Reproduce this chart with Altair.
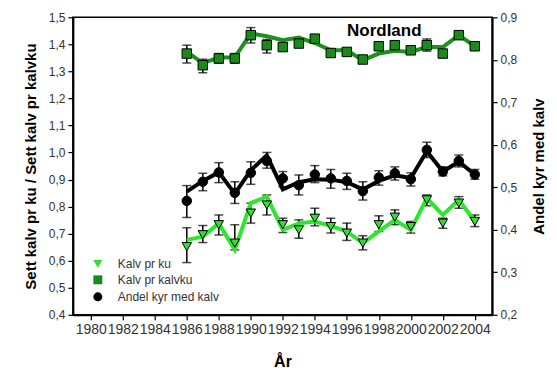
import altair as alt
import pandas as pd

years = list(range(1986, 2005))

# Kalv pr ku (left axis)
ku_val = [0.652, 0.696, 0.733, 0.665, 0.776, 0.806, 0.733, 0.714, 0.757, 0.726,
          0.702, 0.665, 0.733, 0.761, 0.726, 0.825, 0.739, 0.813, 0.745]
ku_lo = [0.593, 0.667, 0.695, 0.640, 0.739, 0.769, 0.704, 0.683, 0.729, 0.702,
         0.675, 0.640, 0.708, 0.733, 0.702, 0.803, 0.720, 0.794, 0.726]
ku_hi = [0.722, 0.730, 0.769, 0.733, 0.813, 0.843, 0.757, 0.751, 0.794, 0.757,
         0.739, 0.692, 0.766, 0.788, 0.745, 0.843, 0.757, 0.837, 0.769]
ku_line = [0.677, 0.689, 0.738, 0.640, 0.813, 0.837, 0.714, 0.738, 0.745, 0.729,
           0.708, 0.665, 0.708, 0.751, 0.714, 0.831, 0.769, 0.825, 0.745]

# Kalv pr kalvku (left axis)
kk_val = [1.366, 1.323, 1.348, 1.348, 1.434, 1.397, 1.390, 1.403, 1.421, 1.368,
          1.372, 1.344, 1.393, 1.397, 1.378, 1.397, 1.366, 1.434, 1.393]
kk_lo = [1.331, 1.295, 1.330, 1.330, 1.405, 1.368, 1.378, 1.391, 1.409, 1.356,
         1.360, 1.332, 1.381, 1.385, 1.366, 1.375, 1.354, 1.422, 1.381]
kk_hi = [1.397, 1.345, 1.366, 1.366, 1.462, 1.418, 1.402, 1.415, 1.433, 1.380,
         1.384, 1.356, 1.405, 1.409, 1.390, 1.420, 1.378, 1.446, 1.405]
kk_line = [1.372, 1.331, 1.351, 1.352, 1.440, 1.430, 1.415, 1.425, 1.405, 1.378,
           1.378, 1.341, 1.366, 1.376, 1.372, 1.390, 1.390, 1.434, 1.393]

# Andel kyr med kalv (right axis)
an_val = [0.468, 0.513, 0.535, 0.487, 0.534, 0.562, 0.521, 0.505, 0.530, 0.521,
          0.515, 0.491, 0.523, 0.533, 0.519, 0.588, 0.537, 0.562, 0.530]
an_lo = [0.429, 0.492, 0.511, 0.462, 0.507, 0.545, 0.501, 0.482, 0.511, 0.498,
         0.495, 0.470, 0.505, 0.517, 0.503, 0.570, 0.527, 0.548, 0.519]
an_hi = [0.504, 0.533, 0.558, 0.513, 0.560, 0.582, 0.537, 0.529, 0.551, 0.542,
         0.533, 0.513, 0.539, 0.548, 0.534, 0.606, 0.548, 0.576, 0.542]
an_line = [0.490, 0.515, 0.535, 0.485, 0.540, 0.575, 0.495, 0.512, 0.519, 0.518,
           0.512, 0.495, 0.515, 0.528, 0.522, 0.585, 0.537, 0.560, 0.530]

series_names = ["Kalv pr ku", "Kalv pr kalvku", "Andel kyr med kalv"]
fills = ["#33dd33", "#1a8a1a", "#000000"]
shapes = ["triangle-down", "square", "circle"]
line_colors = ["#2ee62e", "#1f8f1f", "#000000"]

x_ticks = list(range(1980, 2005, 2))
yl_ticks = [round(0.4 + 0.1 * i, 1) for i in range(12)]
yr_ticks = [round(0.2 + 0.1 * i, 1) for i in range(8)]


def frame(name, val, lo, hi, line):
    return pd.DataFrame({"year": years, "series": name, "val": val,
                         "lo": lo, "hi": hi, "line": line})


df_left = pd.concat([frame(series_names[0], ku_val, ku_lo, ku_hi, ku_line),
                     frame(series_names[1], kk_val, kk_lo, kk_hi, kk_line)],
                    ignore_index=True)
df_right = frame(series_names[2], an_val, an_lo, an_hi, an_line)

FONT = "Liberation Sans"
comma = "replace(format(datum.value, '.1f'), '.', ',')"

xenc = alt.X("year:Q", scale=alt.Scale(domain=[1978.88, 2005.08], nice=False, zero=False),
             axis=alt.Axis(values=x_ticks, format="d", title="År", grid=False,
                           labelFontSize=14, titleFontSize=16, titlePadding=17,
                           labelFlush=False, labelOverlap=False))

axL = alt.Axis(values=yl_ticks, labelExpr=comma, title="Sett kalv pr ku / Sett kalv pr kalvku",
               grid=False, labelFontSize=12, titleFontSize=15, titlePadding=10, orient="left")
axR = alt.Axis(values=yr_ticks, labelExpr=comma, title="Andel kyr med kalv",
               grid=False, labelFontSize=12, titleFontSize=15, titlePadding=30, orient="right",
               titleAngle=270, titleBaseline="bottom")
scL = alt.Scale(domain=[0.4, 1.5], nice=False, zero=False)
scR = alt.Scale(domain=[0.2, 0.9], nice=False, zero=False)

leg = dict(title=None, orient="none", legendX=19, legendY=241,
           labelFont=FONT, labelFontSize=12, labelColor="#333333",
           symbolStrokeColor="black", symbolStrokeWidth=1,
           symbolSize=80, rowPadding=3, labelOffset=14)
fill_enc = alt.Fill("series:N", scale=alt.Scale(domain=series_names, range=fills),
                    legend=alt.Legend(**leg))
shape_enc = alt.Shape("series:N", scale=alt.Scale(domain=series_names, range=shapes),
                      legend=alt.Legend(**leg))


def group(df, sc, ax, lines):
    base = alt.Chart(df)
    rules = base.mark_rule(color="black", strokeWidth=1.5).encode(
        x=xenc, y=alt.Y("lo:Q", scale=sc, axis=ax), y2="hi:Q")
    cap_lo = base.mark_tick(color="black", orient="horizontal", size=9, thickness=1.5).encode(
        x=xenc, y=alt.Y("lo:Q", scale=sc, axis=ax))
    cap_hi = base.mark_tick(color="black", orient="horizontal", size=9, thickness=1.5).encode(
        x=xenc, y=alt.Y("hi:Q", scale=sc, axis=ax))
    line_layers = []
    for name, col in lines:
        line_layers.append(
            alt.Chart(df[df["series"] == name]).mark_line(color=col, strokeWidth=4).encode(
                x=xenc, y=alt.Y("line:Q", scale=sc, axis=ax)))
    pts = base.mark_point(filled=True, size=90, stroke="black", strokeWidth=1, opacity=1).encode(
        x=xenc, y=alt.Y("val:Q", scale=sc, axis=ax), fill=fill_enc, shape=shape_enc)
    return alt.layer(rules, cap_lo, cap_hi, *line_layers, pts)


left = group(df_left, scL, axL, [(series_names[0], line_colors[0]), (series_names[1], line_colors[1])])
right = group(df_right, scR, axR, [(series_names[2], line_colors[2])])

title_df = pd.DataFrame({"label": ["Nordland"]})
label = alt.Chart(title_df).mark_text(font=FONT, fontSize=17, fontWeight="bold",
                                      color="black").encode(
    text="label:N", x=alt.value(312), y=alt.value(14))

chart = alt.layer(left, right, label).resolve_scale(y="independent").properties(
    width=420, height=298,
    autosize=alt.AutoSizeParams(type="none"),
    padding={"left": 65, "top": 9, "right": 57, "bottom": 56},
).configure_view(stroke="black", strokeWidth=1.5).configure_axis(
    domainColor="black", domainWidth=2, tickColor="black", tickWidth=1.2, tickSize=5,
    labelFont=FONT, titleFont=FONT, labelColor="#333333", titleColor="black",
    titleFontWeight="bold", labelPadding=3
)

chart.save("out.html", embed_options={"renderer": "svg", "actions": False})
